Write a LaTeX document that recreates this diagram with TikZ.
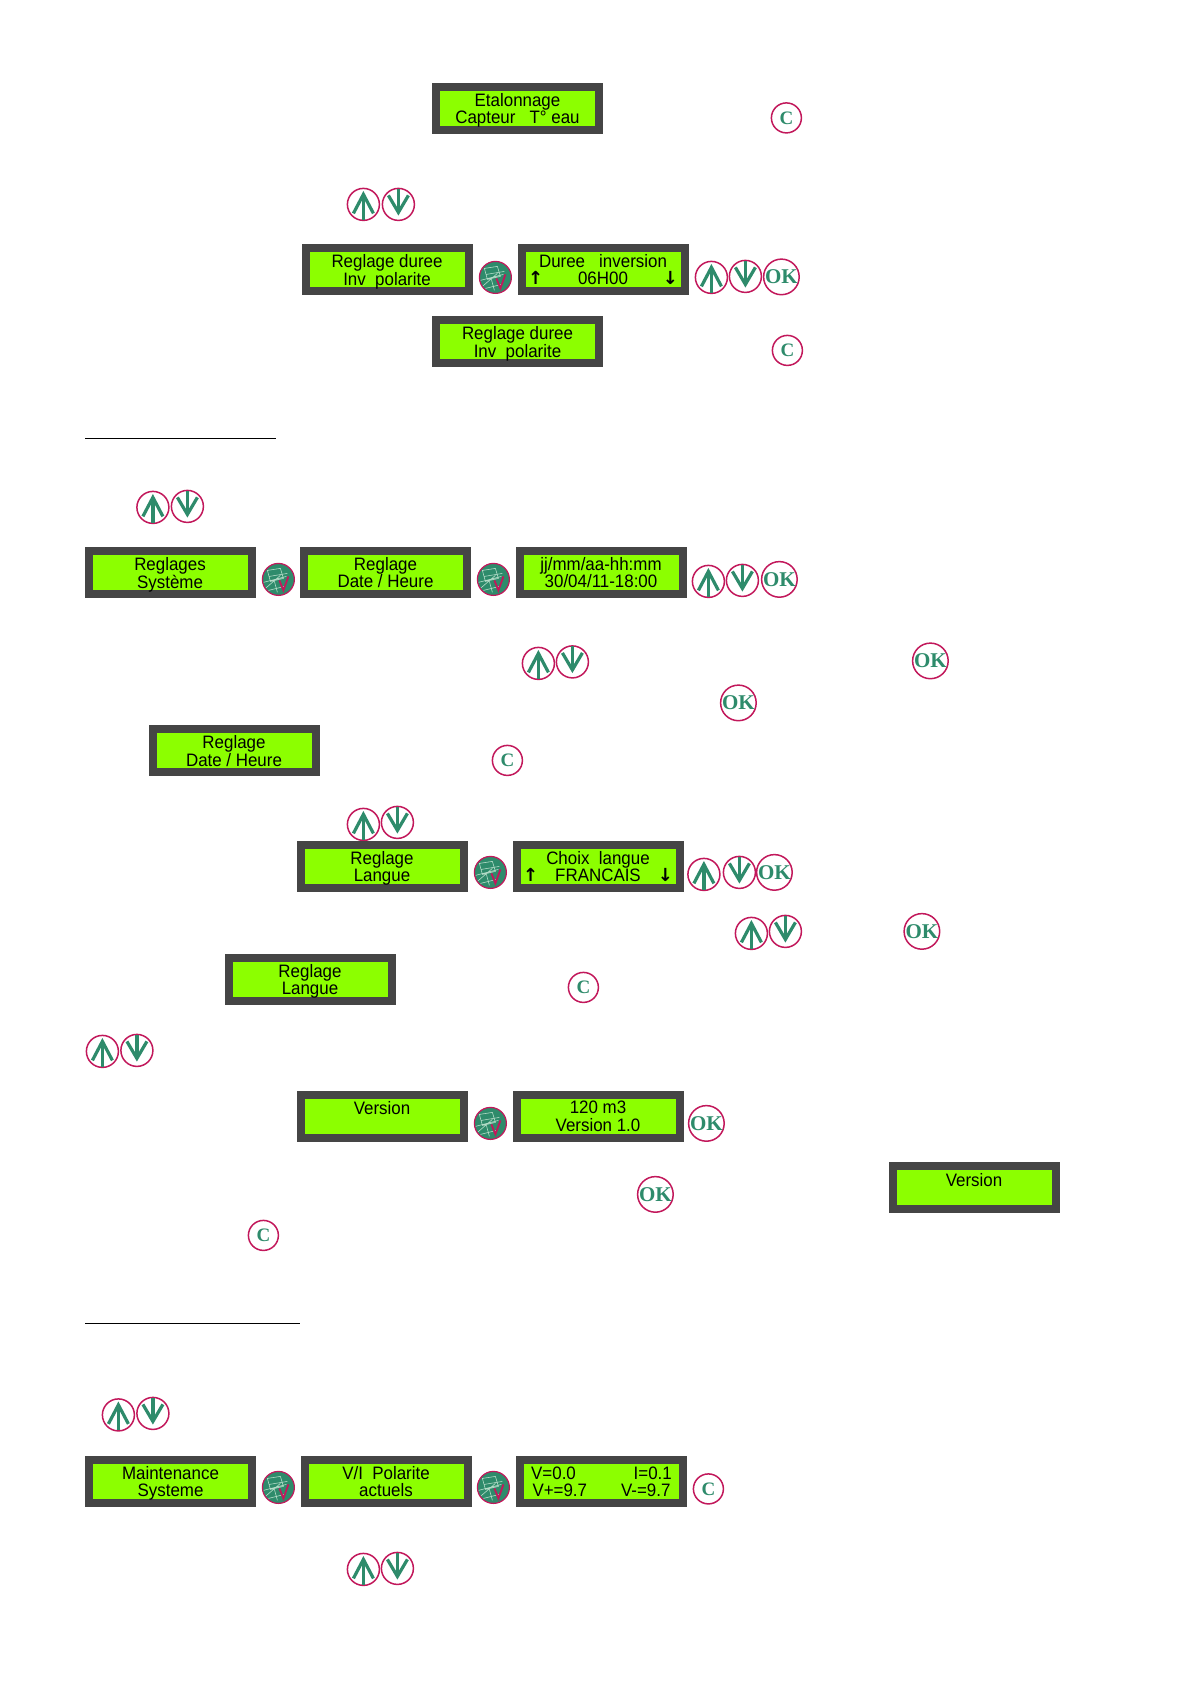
\documentclass[tikz,border=0pt]{standalone}
\usepackage{fontspec}
\setmainfont[FakeStretch=0.94]{Liberation Sans}
\newfontfamily\btnfont{Liberation Serif}
\newfontfamily\lcdarrowfont{DejaVu Sans}
\definecolor{lcdframe}{HTML}{454545}
\definecolor{lcdgreen}{HTML}{8CFF00}
\definecolor{btngreen}{HTML}{2E8B6B}
\definecolor{btnred}{HTML}{C2185B}
\definecolor{linelite}{HTML}{B5DCC8}
\tikzset{
  lcdbox/.style={draw=lcdframe,fill=lcdgreen,line width=8pt,minimum width=163pt,minimum height=43pt,inner sep=0pt},
  lcdtext/.style={inner sep=0pt,align=center,font=\fontsize{18}{17.3}\selectfont,text=black},
  btnround/.style={circle,draw=btnred,line width=1.5pt,fill=white,minimum size=32pt,inner sep=0pt,xshift=.4pt,yshift=-.4pt},
  btnok/.style={btnround,minimum size=35pt,text=btngreen,font=\btnfont\bfseries\fontsize{21}{21}\selectfont},
  btnc/.style={btnround,minimum size=30pt,text=btngreen,font=\btnfont\bfseries\fontsize{19}{19}\selectfont},
  btncheck/.style={circle,draw=btnred,line width=1.2pt,fill=btngreen,minimum size=32pt,inner sep=0pt,xshift=.4pt,yshift=-.4pt},
  arrowline/.style={draw=btngreen,line width=3.2pt,line join=miter},
  ruleline/.style={draw=black,line width=0.7pt}
}
\newcommand{\lcdnode}[5]{\node[lcdbox] (#1) at (#2,#3) {};
  \node[lcdtext] (#1t) at ([yshift=-2.85pt]#1.center) {\strut #4\\[-1.7pt]#5\strut};}
\newcommand{\upbtn}[3]{\node[btnround] (#1) at (#2,#3) {};
  \draw[arrowline] (#1.center)++(0,15.5) -- ++(0,-25);
  \draw[arrowline] (#1.center)++(-10,9) -- ++(10,-19) -- ++(10,19);}
\newcommand{\dnbtn}[3]{\node[btnround] (#1) at (#2,#3) {};
  \draw[arrowline] (#1.center)++(0,-15.5) -- ++(0,23);
  \draw[arrowline] (#1.center)++(-10,-9) -- ++(10,17) -- ++(10,-17);}
\newcommand{\okbtn}[3]{\node[btnok] (#1) at (#2,#3) {OK};}
\newcommand{\cbtn}[3]{\node[btnc] (#1) at (#2,#3) {C};}
\newcommand{\chkbtn}[3]{\node[btncheck] (#1) at (#2,#3) {};
  \begin{scope}[shift={(#1.center)}]
    \clip (0,0) circle (15pt);
    \draw[linelite,line width=0.6pt] (-11,-9) -- (2,-11) -- (5,-1) -- (-8,2) -- cycle (-15,3) -- (8,-3) (-13,9) -- (2,-4) (-4,2) -- (-1,13) (-9,-3) -- (9,-6) (-10,11)--(6,7);
    \draw[btnred,line width=1.8pt] (1,1) -- (5,11) -- (10,-3);
  \end{scope}}
\newcommand{\rowtext}[1]{\hbox to 150pt{#1}}
\newcommand{\arrowup}{\smash{\lcdarrowfont\bfseries ↑}}
\newcommand{\arrowdn}{\smash{\lcdarrowfont\bfseries ↓}}
\begin{document}
\begin{tikzpicture}[x=1pt,y=-1pt]
\useasboundingbox (0,0) rectangle (1190,1684);
\lcdnode{a1}{517.5}{108.5}{Etalonnage}{Capteur~~ T° eau}
\cbtn{c1}{786}{117.5}
\upbtn{u1}{363}{204}\dnbtn{d1}{398}{204}
\lcdnode{a2}{387}{269.5}{Reglage duree}{Inv~~polarite}
\chkbtn{k1}{495}{277}
\lcdnode{a3}{603}{269.5}{Duree~~ inversion}{\rowtext{\arrowup\hfill 06H00\hfill \arrowdn}}
\upbtn{u2}{711}{277}\dnbtn{d2}{745}{276}\okbtn{o1}{781}{276.5}
\lcdnode{a4}{517.5}{341.5}{Reglage duree}{Inv~~polarite}
\cbtn{c2}{787}{350}
\coordinate (r1a) at (85,438.5);\coordinate (r1b) at (276,438.5);
\draw[ruleline] (r1a) -- (r1b);
\upbtn{u3}{152.5}{507}\dnbtn{d3}{187}{506}
\lcdnode{b1}{170}{572.5}{Reglages}{Système}
\chkbtn{k2}{278}{579}
\lcdnode{b2}{385.5}{572}{Reglage}{Date / Heure}
\chkbtn{k3}{493}{579}
\lcdnode{b3}{601}{572}{jj/mm/aa-hh:mm}{30/04/11-18:00}
\upbtn{u4}{708}{581}\dnbtn{d4}{742}{580}\okbtn{o2}{779}{579}
\upbtn{u5}{538}{663}\dnbtn{d5}{572}{661.5}\okbtn{o3}{930}{660.5}
\okbtn{o4}{738}{702.5}
\lcdnode{b4}{234}{750.5}{Reglage}{Date / Heure}
\cbtn{c3}{507}{760}
\upbtn{u6}{363}{824}\dnbtn{d6}{397}{822}
\lcdnode{b5}{382}{866}{Reglage}{Langue}
\chkbtn{k4}{490}{872}
\lcdnode{b6}{598}{866}{Choix~~langue}{\rowtext{\arrowup\hfill FRANCAIS\hfill \arrowdn}}
\upbtn{u7}{703.5}{874}\dnbtn{d7}{739}{872}\okbtn{o5}{774}{872}
\upbtn{u8}{751}{933}\dnbtn{d8}{785}{931}\okbtn{o6}{921.5}{931}
\lcdnode{b7}{310}{979}{Reglage}{Langue}
\cbtn{c4}{583}{987}
\upbtn{u9}{102}{1051}\dnbtn{d9}{136.5}{1050}
\lcdnode{b8}{382}{1116}{Version}{}
\chkbtn{k5}{490}{1123}
\lcdnode{b9}{598}{1116}{120 m3}{Version 1.0}
\okbtn{o7}{706}{1123}
\okbtn{o8}{655}{1194}
\lcdnode{b10}{974}{1187.5}{Version}{}
\cbtn{c5}{263}{1235}
\coordinate (r2a) at (85,1323.5);\coordinate (r2b) at (300,1323.5);
\draw[ruleline] (r2a) -- (r2b);
\upbtn{u10}{118}{1414.5}\dnbtn{d10}{152.5}{1413}
\lcdnode{e1}{170.5}{1481}{Maintenance}{Systeme}
\chkbtn{k6}{278}{1487}
\lcdnode{e2}{386}{1481}{V/I~~Polarite}{actuels}
\chkbtn{k7}{493}{1487}
\lcdnode{e3}{601.5}{1481}{\rowtext{ V=0.0\hfill I=0.1 }}{\rowtext{\hspace{6pt}V+=9.7\hfill V-=9.7\hspace{6pt}}}
\cbtn{c6}{708}{1488.5}
\upbtn{u11}{363}{1569}\dnbtn{d11}{397}{1568}
\end{tikzpicture}
\end{document}
